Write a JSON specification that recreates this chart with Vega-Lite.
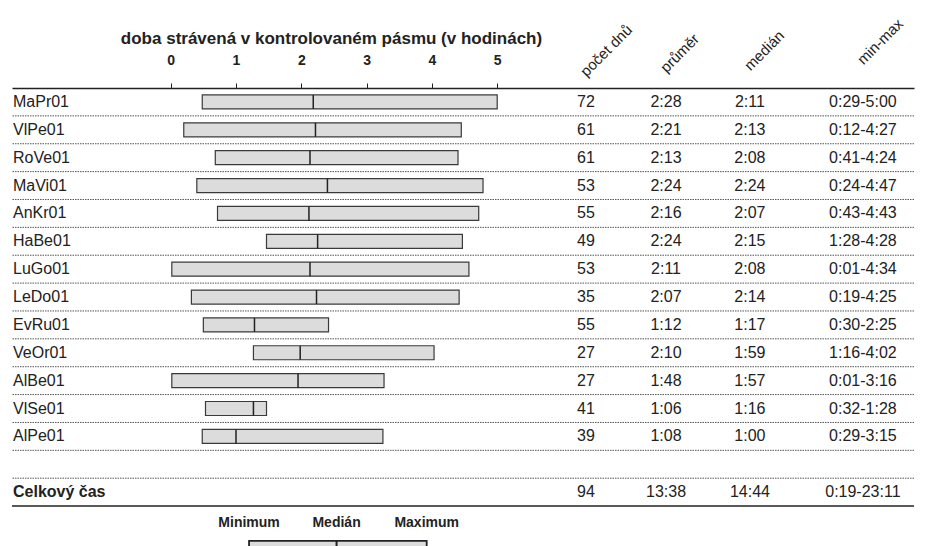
{
  "$schema": "https://vega.github.io/schema/vega-lite/v6.json",
  "autosize": {"type": "none"},
  "padding": {"left": 12, "top": 88, "right": 11, "bottom": 0},
  "width": 902,
  "height": 458,
  "config": {
    "view": {"stroke": null},
    "font": "Liberation Sans",
    "text": {"font": "Liberation Sans", "fontSize": 16, "color": "#222"}
  },
  "datasets": {
    "main": [
      {"row": 1, "name": "MaPr01", "days": "72", "avg": "2:28", "med": "2:11", "range": "0:29-5:00", "min": 0.483, "median": 2.183, "max": 5.0},
      {"row": 2, "name": "VlPe01", "days": "61", "avg": "2:21", "med": "2:13", "range": "0:12-4:27", "min": 0.2, "median": 2.217, "max": 4.45},
      {"row": 3, "name": "RoVe01", "days": "61", "avg": "2:13", "med": "2:08", "range": "0:41-4:24", "min": 0.683, "median": 2.133, "max": 4.4},
      {"row": 4, "name": "MaVi01", "days": "53", "avg": "2:24", "med": "2:24", "range": "0:24-4:47", "min": 0.4, "median": 2.4, "max": 4.783},
      {"row": 5, "name": "AnKr01", "days": "55", "avg": "2:16", "med": "2:07", "range": "0:43-4:43", "min": 0.717, "median": 2.117, "max": 4.717},
      {"row": 6, "name": "HaBe01", "days": "49", "avg": "2:24", "med": "2:15", "range": "1:28-4:28", "min": 1.467, "median": 2.25, "max": 4.467},
      {"row": 7, "name": "LuGo01", "days": "53", "avg": "2:11", "med": "2:08", "range": "0:01-4:34", "min": 0.017, "median": 2.133, "max": 4.567},
      {"row": 8, "name": "LeDo01", "days": "35", "avg": "2:07", "med": "2:14", "range": "0:19-4:25", "min": 0.317, "median": 2.233, "max": 4.417},
      {"row": 9, "name": "EvRu01", "days": "55", "avg": "1:12", "med": "1:17", "range": "0:30-2:25", "min": 0.5, "median": 1.283, "max": 2.417},
      {"row": 10, "name": "VeOr01", "days": "27", "avg": "2:10", "med": "1:59", "range": "1:16-4:02", "min": 1.267, "median": 1.983, "max": 4.033},
      {"row": 11, "name": "AlBe01", "days": "27", "avg": "1:48", "med": "1:57", "range": "0:01-3:16", "min": 0.017, "median": 1.95, "max": 3.267},
      {"row": 12, "name": "VlSe01", "days": "41", "avg": "1:06", "med": "1:16", "range": "0:32-1:28", "min": 0.533, "median": 1.267, "max": 1.467},
      {"row": 13, "name": "AlPe01", "days": "39", "avg": "1:08", "med": "1:00", "range": "0:29-3:15", "min": 0.483, "median": 1.0, "max": 3.25},
      {"row": 15, "name": "Celkový čas", "days": "94", "avg": "13:38", "med": "14:44", "range": "0:19-23:11", "min": null, "median": null, "max": null}
    ],
    "legendBox": [
      {"row": 17, "lo": 1.2, "mid": 2.54, "hi": 3.92}
    ],
    "legendLabels": [
      {"row": 16, "label": "Minimum", "hours": 1.2},
      {"row": 16, "label": "Medián", "hours": 2.54},
      {"row": 16, "label": "Maximum", "hours": 3.92}
    ]
  },
  "encoding": {
    "y": {
      "field": "row", "type": "ordinal", "axis": null,
      "scale": {"type": "band", "domain": [1,2,3,4,5,6,7,8,9,10,11,12,13,14,15,16,17], "range": [0, 473.8], "paddingInner": 0, "paddingOuter": 0}
    }
  },
  "layer": [
    {
      "layer": [
        {
          "data": {"name": "main"},
          "transform": [{"filter": "datum.row <= 13"}],
          "mark": {"type": "rule", "color": "#555", "strokeWidth": 1, "strokeDash": [1.5, 1]},
          "encoding": {"y": {"field": "row", "type": "ordinal", "bandPosition": 1}}
        },
        {
          "data": {"name": "main"},
          "transform": [{"filter": "datum.row == 15"}],
          "mark": {"type": "rule", "color": "#555", "strokeWidth": 1, "strokeDash": [1.5, 1]},
          "encoding": {"y": {"field": "row", "type": "ordinal", "bandPosition": 0}}
        },
        {
          "data": {"name": "main"},
          "transform": [{"filter": "datum.row == 15"}],
          "mark": {"type": "rule", "color": "#222", "strokeWidth": 1.5},
          "encoding": {"y": {"field": "row", "type": "ordinal", "bandPosition": 1}}
        },
        {
          "data": {"name": "main"},
          "transform": [{"filter": "isValid(datum.min)"}],
          "mark": {"type": "bar", "height": 14, "fill": "#dcdcdc", "stroke": "#3a3a3a", "strokeWidth": 1.2},
          "encoding": {
            "x": {
              "field": "min", "type": "quantitative",
              "scale": {"domain": [-2.4303, 11.3828], "nice": false, "zero": false},
              "axis": {
                "orient": "top", "values": [0, 1, 2, 3, 4, 5], "format": "d", "grid": false,
                "title": "doba strávená v kontrolovaném pásmu (v hodinách)",
                "titleFont": "Liberation Sans", "titleFontSize": 17, "titleFontWeight": "bold", "titleColor": "#222",
                "titleX": 319, "titleY": -45, "titleAlign": "center", "titleBaseline": "alphabetic", "titleAnchor": null,
                "labelFont": "Liberation Sans", "labelFontSize": 14, "labelFontWeight": "bold", "labelColor": "#222",
                "labelPadding": 16, "labelFlush": false,
                "tickSize": 5, "tickColor": "#222", "tickWidth": 1,
                "domain": true, "domainColor": "#222", "domainWidth": 1.5
              }
            },
            "x2": {"field": "max"}
          }
        },
        {
          "data": {"name": "main"},
          "transform": [{"filter": "isValid(datum.median)"}],
          "mark": {"type": "tick", "size": 14, "thickness": 1.5, "color": "#222", "opacity": 1},
          "encoding": {"x": {"field": "median", "type": "quantitative"}}
        },
        {
          "data": {"name": "legendBox"},
          "mark": {"type": "bar", "height": 14, "fill": "#dcdcdc", "stroke": "#222", "strokeWidth": 1.8, "clip": true},
          "encoding": {
            "x": {"field": "lo", "type": "quantitative"},
            "x2": {"field": "hi"}
          }
        },
        {
          "data": {"name": "legendBox"},
          "mark": {"type": "tick", "size": 14, "thickness": 2, "color": "#222", "opacity": 1, "clip": true},
          "encoding": {"x": {"field": "mid", "type": "quantitative"}}
        },
        {
          "data": {"name": "legendLabels"},
          "mark": {"type": "text", "fontSize": 14, "fontWeight": "bold", "align": "center", "baseline": "middle", "dy": 3},
          "encoding": {
            "x": {"field": "hours", "type": "quantitative"},
            "text": {"field": "label"}
          }
        },
        {
          "data": {"name": "main"},
          "transform": [{"filter": "datum.row <= 13"}],
          "mark": {"type": "text", "align": "left", "baseline": "middle"},
          "encoding": {
            "x": {"datum": -2.415, "type": "quantitative"},
            "text": {"field": "name"}
          }
        },
        {
          "data": {"name": "main"},
          "transform": [{"filter": "datum.row == 15"}],
          "mark": {"type": "text", "align": "left", "baseline": "middle", "fontWeight": "bold"},
          "encoding": {
            "x": {"datum": -2.415, "type": "quantitative"},
            "text": {"field": "name"}
          }
        }
      ]
    },
    {
      "encoding": {
        "x": {
          "type": "quantitative",
          "scale": {"domain": [-2.4303, 11.3828], "nice": false, "zero": false},
          "axis": {
            "orient": "top", "title": null, "domain": false, "ticks": false, "tickSize": 0, "grid": false,
            "values": [6.36, 7.585, 8.87, 10.6],
            "labelAngle": -45, "labelAlign": "left", "labelBaseline": "alphabetic",
            "labelPadding": {"condition": [{"test": "datum.value < 7", "value": 11}, {"test": "datum.value < 8", "value": 15}, {"test": "datum.value < 9", "value": 17}], "value": 23},
            "labelOverlap": false, "labelBound": false, "labelFlush": false,
            "labelFont": "Liberation Sans", "labelFontSize": 15, "labelColor": "#222",
            "labelExpr": "datum.value < 7 ? 'počet dnů' : datum.value < 8 ? 'průměr' : datum.value < 9 ? 'medián' : 'min-max'"
          }
        }
      },
      "layer": [
        {
          "data": {"name": "main"},
          "mark": {"type": "text", "align": "center", "baseline": "middle"},
          "encoding": {"x": {"datum": 6.36, "type": "quantitative"}, "text": {"field": "days"}}
        },
        {
          "data": {"name": "main"},
          "mark": {"type": "text", "align": "center", "baseline": "middle"},
          "encoding": {"x": {"datum": 7.585, "type": "quantitative"}, "text": {"field": "avg"}}
        },
        {
          "data": {"name": "main"},
          "mark": {"type": "text", "align": "center", "baseline": "middle"},
          "encoding": {"x": {"datum": 8.87, "type": "quantitative"}, "text": {"field": "med"}}
        },
        {
          "data": {"name": "main"},
          "mark": {"type": "text", "align": "center", "baseline": "middle"},
          "encoding": {"x": {"datum": 10.6, "type": "quantitative"}, "text": {"field": "range"}}
        }
      ]
    }
  ],
  "resolve": {"scale": {"x": "independent"}, "axis": {"x": "independent"}}
}
